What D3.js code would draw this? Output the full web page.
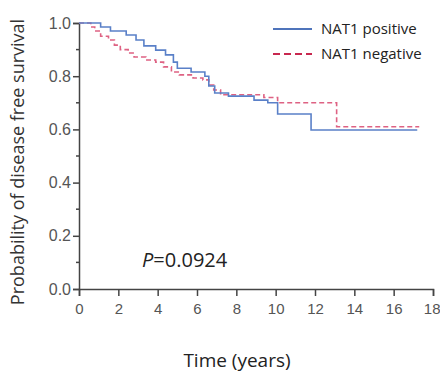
<!DOCTYPE html>
<html>
<head>
<meta charset="utf-8">
<script src="https://cdn.jsdelivr.net/npm/d3@7"></script>
<style>
  body { margin: 0; background: #fff; }
  svg { display: block; font-family: "Open Sans", "Noto Sans", sans-serif; }
</style>
</head>
<body>
<div class="graph"></div>
<script>
// step points: [time in years, survival after the event]
var positiveSteps = [[0, 1.0], [1.1, 0.985], [1.6, 0.97], [2.4, 0.955], [2.9, 0.936], [3.3, 0.914],
  [3.9, 0.898], [4.4, 0.88], [4.8, 0.853], [5.0, 0.83], [5.7, 0.816], [6.4, 0.80], [6.6, 0.763],
  [6.9, 0.737], [7.6, 0.725], [8.9, 0.71], [9.6, 0.70], [10.1, 0.658], [11.8, 0.598], [17.2, 0.598]];
var negativeSteps = [[0, 1.0], [0.6, 0.985], [0.8, 0.97], [1.1, 0.95], [1.5, 0.936], [1.8, 0.917],
  [2.1, 0.90], [2.5, 0.887], [2.8, 0.872], [3.4, 0.861], [3.9, 0.853], [4.3, 0.835], [4.7, 0.816],
  [5.1, 0.805], [5.8, 0.793], [6.3, 0.786], [6.6, 0.767], [6.85, 0.748], [7.2, 0.73], [9.4, 0.72],
  [10.1, 0.70], [13.1, 0.61], [17.3, 0.61]];
var xTicks = [0, 2, 4, 6, 8, 10, 12, 14, 16, 18];
var yTicks = [0, 0.2, 0.4, 0.6, 0.8, 1.0];
var yMinorTicks = [0.1, 0.3, 0.5, 0.7, 0.9];
var seriesNames = ["NAT1 positive", "NAT1 negative"];
var pText = "=0.0924";

var width = 440, height = 373;
var margin = { top: 23, right: 7, bottom: 84, left: 79 };

var svg = d3.select(".graph").append("svg")
  .attr("width", width)
  .attr("height", height);

var x = d3.scaleLinear().domain([0, 18]).range([margin.left, width - margin.right]);
var y = d3.scaleLinear().domain([0, 1]).range([height - margin.bottom, margin.top]);

// x axis
var xAxis = svg.append("g")
  .attr("transform", `translate(0, ${y(0)})`)
  .call(d3.axisBottom(x).tickValues(xTicks).tickFormat(d3.format("d")).tickSize(7).tickPadding(7));
xAxis.select(".domain").attr("stroke", "#444").attr("stroke-width", 1.5);
xAxis.selectAll(".tick line").attr("stroke", "#444").attr("stroke-width", 1.5);
xAxis.selectAll(".tick text").attr("fill", "#555").style("font-size", "15px");
// last label sits at the very edge, keep it inside the page
xAxis.selectAll(".tick text").filter(d => d === 18).attr("text-anchor", "end").attr("x", 7);

// y axis
var yAxis = svg.append("g")
  .attr("transform", `translate(${x(0)}, 0)`)
  .call(d3.axisLeft(y).tickValues(yTicks).tickFormat(d3.format(".1f")).tickSize(6).tickPadding(2));
yAxis.select(".domain").attr("stroke", "#444").attr("stroke-width", 1.5);
yAxis.selectAll(".tick line").attr("stroke", "#444").attr("stroke-width", 1.5);
yAxis.selectAll(".tick text").attr("fill", "#555").style("font-size", "16px");

svg.append("g")
  .selectAll("line")
  .data(yMinorTicks)
  .join("line")
  .attr("x1", x(0) - 3)
  .attr("x2", x(0))
  .attr("y1", d => y(d))
  .attr("y2", d => y(d))
  .attr("stroke", "#444")
  .attr("stroke-width", 1.5);

// curves
var stepLine = d3.line()
  .x(d => x(d[0]))
  .y(d => y(d[1]))
  .curve(d3.curveStepAfter);

svg.append("path")
  .datum(negativeSteps)
  .attr("fill", "none")
  .attr("stroke", "#de6283")
  .attr("stroke-width", 1.6)
  .attr("stroke-dasharray", "5,3")
  .attr("d", stepLine);

svg.append("path")
  .datum(positiveSteps)
  .attr("fill", "none")
  .attr("stroke", "#5a80c8")
  .attr("stroke-width", 1.6)
  .attr("d", stepLine);

// legend
var legend = svg.append("g");
legend.append("line")
  .attr("x1", 273).attr("x2", 312).attr("y1", 29).attr("y2", 29)
  .attr("stroke", "#4f74bb").attr("stroke-width", 2);
legend.append("line")
  .attr("x1", 273).attr("x2", 312).attr("y1", 54).attr("y2", 54)
  .attr("stroke", "#c8284f").attr("stroke-width", 2).attr("stroke-dasharray", "7,4");
legend.selectAll("text")
  .data(seriesNames)
  .join("text")
  .attr("x", 321)
  .attr("y", (d, i) => 29 + i * 25)
  .attr("dy", "0.35em")
  .attr("fill", "#222")
  .style("font-size", "15px")
  .text(d => d);

// p value
var p = svg.append("text")
  .attr("x", 142)
  .attr("y", 260)
  .attr("dy", "0.35em")
  .attr("fill", "#222")
  .style("font-size", "20px");
p.append("tspan").style("font-style", "italic").text("P");
p.append("tspan").text(pText);

// axis titles
svg.append("text")
  .attr("x", 237)
  .attr("y", 360)
  .attr("text-anchor", "middle")
  .attr("dy", "0.35em")
  .attr("fill", "#222")
  .style("font-size", "19px")
  .text("Time (years)");

svg.append("text")
  .attr("transform", `translate(18, 162) rotate(-90)`)
  .attr("text-anchor", "middle")
  .attr("dy", "0.35em")
  .attr("fill", "#333")
  .style("font-size", "18px")
  .text("Probability of disease free survival");
</script>
</body>
</html>
